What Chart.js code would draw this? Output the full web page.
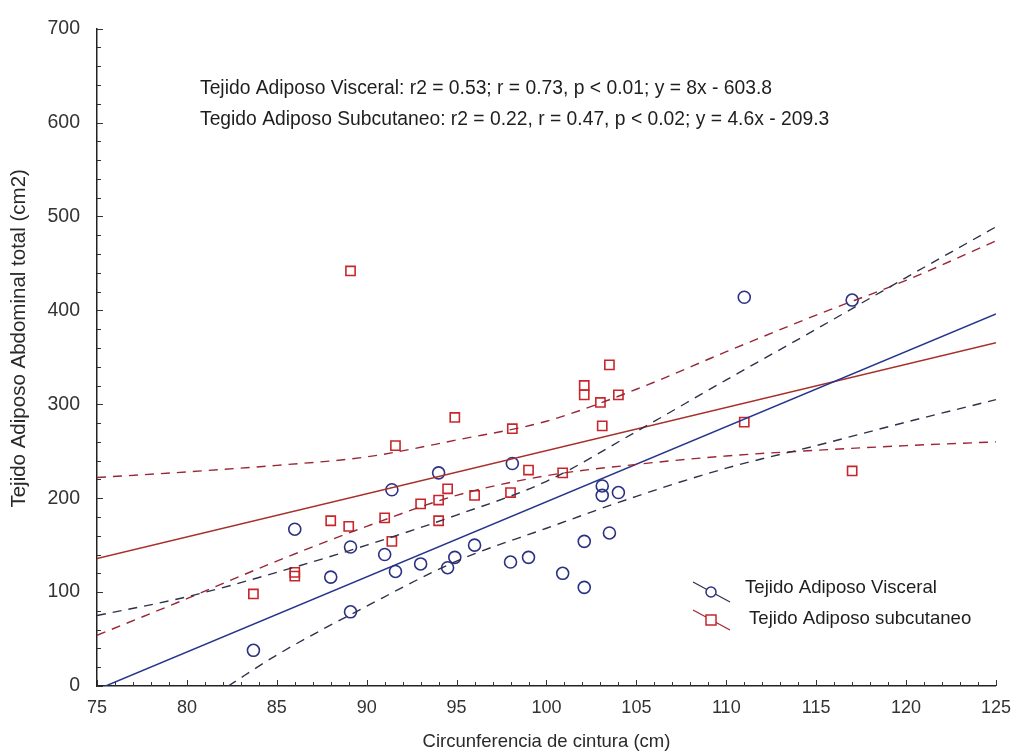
<!DOCTYPE html>
<html>
<head>
<meta charset="utf-8">
<script src="https://cdn.jsdelivr.net/npm/chart.js@4.4.1/dist/chart.umd.min.js"></script>
<style>
  html, body { margin: 0; padding: 0; background: #fff; }
  #wrap { width: 1022px; height: 753px; }
</style>
</head>
<body>
<div id="wrap"><canvas id="grasaChart"></canvas></div>
<script>
// Waist circumference (cm) vs. abdominal adipose tissue area (cm2)
const visceralX = [83.7, 86.0, 88.0, 89.1, 89.1, 91.0, 91.4, 91.6, 93.0, 94.0, 94.5, 94.9, 96.0,
                   98.0, 98.1, 99.0, 100.9, 102.1, 102.1, 103.1, 103.1, 103.5, 104.0, 111.0, 117.0];
const visceralY = [38, 167, 116, 148, 79, 140, 209, 122, 130, 227, 126, 137, 150,
                   132, 237, 137, 120, 105, 154, 213, 203, 163, 206, 414, 411];

const subcutX = [83.7, 86.0, 86.0, 88.0, 89.0, 89.1, 91.0, 91.4, 91.6, 93.0, 94.0, 94.0, 94.5, 94.9,
                 96.0, 98.0, 98.1, 99.0, 100.9, 102.1, 102.1, 103.0, 103.1, 103.5, 104.0, 111.0, 117.0];
const subcutY = [98, 121, 117, 176, 170, 442, 179, 154, 256, 194, 198, 176, 210, 286,
                 203, 206, 274, 230, 227, 320, 310, 302, 277, 342, 310, 281, 229];

// regression lines y = slope * x + intercept
const visceralSlope = 8;
const visceralIntercept = -603.8;
const subcutSlope = 4.6;
const subcutIntercept = -209.3;
const fitRange = [75, 125];

// 95% bands
const bandX = [75, 80, 85, 90, 95, 100, 105, 110, 115, 120, 125];
const visceralUpper = [75, 95, 121, 150, 182, 218, 271, 326, 380, 435, 489];
const visceralLowerX = [82.3, 85, 90, 95, 100, 105, 110, 115, 120, 125];
const visceralLower = [0, 33, 85, 133, 168, 202, 232, 256, 281, 305];
const subcutUpper = [222, 228, 235, 244, 262, 282, 316, 356, 395, 432, 474];
const subcutLower = [54, 93, 133, 170, 203, 224, 236, 245, 251, 256, 260];

const xTicks = [75, 80, 85, 90, 95, 100, 105, 110, 115, 120, 125];
const yTicks = [0, 100, 200, 300, 400, 500, 600, 700];

const statsLines = [
  'Tejido Adiposo Visceral: r2 = 0.53; r = 0.73, p < 0.01; y = 8x - 603.8',
  'Tegido Adiposo Subcutaneo: r2 = 0.22, r = 0.47, p < 0.02; y = 4.6x - 209.3'
];
const legendLabels = ['Tejido Adiposo Visceral', 'Tejido Adiposo subcutaneo'];

const BLUE = '#2b3183';
const BLUE_LINE = '#26348c';
const BLUE_DASH = '#2e3148';
const RED = '#c8262b';
const RED_LINE = '#a8302c';
const RED_DASH = '#9a2636';
const FONT = '"Liberation Sans", Arial, sans-serif';

const toPoints = (xs, ys) => xs.map((x, i) => ({ x: x, y: ys[i] }));
const fitPoints = (m, b) => fitRange.map(x => ({ x: x, y: m * x + b }));

const bandStyle = (color) => ({
  type: 'line',
  borderColor: color,
  borderWidth: 1.4,
  borderDash: [9, 7],
  pointRadius: 0,
  cubicInterpolationMode: 'monotone',
  fill: false
});

// inward tick marks on both axes
const innerTicks = {
  id: 'innerTicks',
  afterDatasetsDraw(chart) {
    const { ctx, scales: { x, y } } = chart;
    ctx.save();
    ctx.strokeStyle = '#333';
    ctx.lineWidth = 1;
    ctx.beginPath();
    for (let v = fitRange[0]; v <= fitRange[1]; v += 1) {
      const px = Math.round(x.getPixelForValue(v)) + 0.5;
      const len = v % 5 === 0 ? 6 : 4;
      ctx.moveTo(px, y.bottom);
      ctx.lineTo(px, y.bottom - len);
    }
    for (let v = 0; v <= 700; v += 20) {
      const py = Math.round(y.getPixelForValue(v)) + 0.5;
      const len = v % 100 === 0 ? 6 : 4;
      ctx.moveTo(x.left, py);
      ctx.lineTo(x.left + len, py);
    }
    ctx.stroke();
    ctx.restore();
  }
};

// stats text, y axis title and the legend box in the lower right
const annotations = {
  id: 'annotations',
  afterDraw(chart) {
    const { ctx, chartArea: a } = chart;
    ctx.save();
    ctx.fillStyle = '#1e1e1e';
    ctx.font = '19.3px ' + FONT;
    ctx.textBaseline = 'middle';
    ctx.textAlign = 'left';
    ctx.fillText(statsLines[0], a.left + 103, 89);
    ctx.fillText(statsLines[1], a.left + 103, 120);

    // rotated axis title, set a bit above the middle of the axis
    ctx.save();
    ctx.translate(19, (a.top + a.bottom) / 2 - 19);
    ctx.rotate(-Math.PI / 2);
    ctx.textAlign = 'center';
    ctx.fillStyle = '#2a2a2a';
    ctx.font = '20.5px ' + FONT;
    ctx.fillText('Tejido Adiposo Abdominal total (cm2)', 0, 0);
    ctx.restore();

    const lx = a.left + 596;
    const rows = [
      { y: 592, color: BLUE, line: BLUE_DASH, style: 'circle' },
      { y: 620, color: RED, line: RED_DASH, style: 'rect' }
    ];
    rows.forEach((r, i) => {
      ctx.strokeStyle = r.line;
      ctx.lineWidth = 1.2;
      ctx.beginPath();
      ctx.moveTo(lx, r.y - 10);
      ctx.lineTo(lx + 37, r.y + 10);
      ctx.stroke();
      ctx.strokeStyle = r.color;
      ctx.lineWidth = 1.5;
      ctx.fillStyle = '#fff';
      ctx.beginPath();
      if (r.style === 'circle') {
        ctx.arc(lx + 18, r.y, 5, 0, Math.PI * 2);
      } else {
        ctx.rect(lx + 13, r.y - 5, 10, 10);
      }
      ctx.fill();
      ctx.stroke();
      ctx.fillStyle = '#1e1e1e';
      ctx.font = '18.6px ' + FONT;
      ctx.fillText(legendLabels[i], lx + 52 + i * 4, r.y - 4 + i * 3);
    });
    ctx.restore();
  }
};

const ctx = document.getElementById('grasaChart').getContext('2d');
new Chart(ctx, {
  type: 'scatter',
  data: {
    datasets: [
      Object.assign(bandStyle(BLUE_DASH), { data: toPoints(bandX, visceralUpper) }),
      Object.assign(bandStyle(BLUE_DASH), { data: toPoints(visceralLowerX, visceralLower) }),
      Object.assign(bandStyle(RED_DASH), { data: toPoints(bandX, subcutUpper) }),
      Object.assign(bandStyle(RED_DASH), { data: toPoints(bandX, subcutLower) }),
      {
        type: 'line',
        data: fitPoints(visceralSlope, visceralIntercept),
        borderColor: BLUE_LINE,
        borderWidth: 1.5,
        pointRadius: 0
      },
      {
        type: 'line',
        data: fitPoints(subcutSlope, subcutIntercept),
        borderColor: RED_LINE,
        borderWidth: 1.5,
        pointRadius: 0
      },
      {
        label: legendLabels[0],
        data: toPoints(visceralX, visceralY),
        pointStyle: 'circle',
        pointRadius: 6,
        borderColor: BLUE,
        borderWidth: 1.6,
        backgroundColor: 'rgba(255,255,255,0)'
      },
      {
        label: legendLabels[1],
        data: toPoints(subcutX, subcutY),
        pointStyle: 'rect',
        pointRadius: 6.5,
        borderColor: RED,
        borderWidth: 1.6,
        backgroundColor: 'rgba(255,255,255,0)'
      }
    ]
  },
  options: {
    responsive: true,
    maintainAspectRatio: false,
    animation: false,
    events: [],
    layout: { padding: { top: 25, right: 22, left: 0, bottom: 0 } },
    plugins: {
      legend: { display: false },
      tooltip: { enabled: false }
    },
    scales: {
      x: {
        type: 'linear',
        min: 75,
        max: 125,
        afterFit: (scale) => { scale.height = 67; },
        afterBuildTicks: (scale) => { scale.ticks = xTicks.map(v => ({ value: v })); },
        ticks: { color: '#333', font: { family: FONT, size: 18 }, padding: 11 },
        grid: { display: true, drawOnChartArea: false, drawTicks: false },
        border: { display: true, color: '#222', width: 1.5 },
        title: {
          display: true,
          text: 'Circunferencia de cintura (cm)',
          color: '#2a2a2a',
          font: { family: FONT, size: 18.5 },
          padding: { top: 0, bottom: 0 }
        }
      },
      y: {
        type: 'linear',
        min: 0,
        max: 700,
        afterFit: (scale) => { scale.width = 97; },
        afterBuildTicks: (scale) => { scale.ticks = yTicks.map(v => ({ value: v })); },
        ticks: { color: '#333', font: { family: FONT, size: 19.5 }, padding: 17 },
        grid: { display: true, drawOnChartArea: false, drawTicks: false },
        border: { display: true, color: '#222', width: 1.5 }
      }
    }
  },
  plugins: [innerTicks, annotations]
});
</script>
</body>
</html>
